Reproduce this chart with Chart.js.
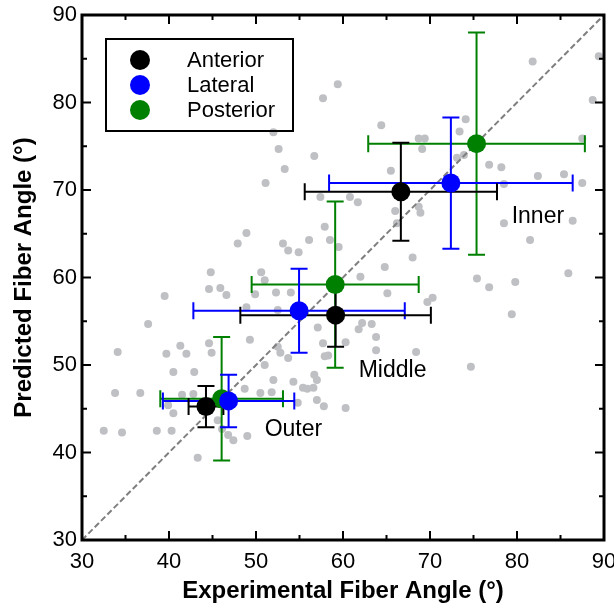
<!DOCTYPE html>
<html>
<head>
<meta charset="utf-8">
<script src="https://cdn.jsdelivr.net/npm/chart.js@4"></script>
<style>
  html, body { margin: 0; padding: 0; background: #fff; }
</style>
</head>
<body>
<canvas id="fiberChart" width="614" height="606"></canvas>
<script>
// -------------------- Data --------------------
const axisMin = 30;
const axisMax = 90;
const regions = ["Outer", "Middle", "Inner"];
const groupNames = ["Anterior", "Lateral", "Posterior"];
const groupColors = ["#000000", "#0000ff", "#008000"];

// mean experimental / predicted angle per region, with +/- error
const anteriorExp = [44.25, 59.15, 66.65];
const anteriorPred = [45.25, 55.7, 69.8];
const anteriorExpErr = [2.0, 10.95, 11.05];
const anteriorPredErr = [2.35, 3.6, 5.6];

const lateralExp = [46.85, 54.95, 72.4];
const lateralPred = [45.9, 56.2, 70.8];
const lateralExpErr = [7.55, 12.15, 14.0];
const lateralPredErr = [3.0, 4.8, 7.5];

const posteriorExp = [46.05, 59.1, 75.35];
const posteriorPred = [46.15, 59.2, 75.3];
const posteriorExpErr = [7.05, 9.6, 12.45];
const posteriorPredErr = [7.05, 9.5, 12.7];

// individual samples (gray)
const sampleExp = [
  81.8, 89.4, 88.7, 87.5, 76.8, 78.2, 82.4, 85.4, 87.5, 78.5, 78.5, 86.4, 81.5, 75.4, 76.8, 79.8, 85.9, 79.4,
  59.4, 57.7, 64.4, 74.1, 73.4, 68.7, 69.4, 69.1, 56.7, 73.9, 73.1, 65.5, 60.8, 61.7, 57.4, 66.0, 68.7, 68.9,
  57.9, 56.1, 58.5, 59.5, 68.0, 64.8, 62.0, 65.1, 70.3, 69.7, 66.2,
  62.2, 63.3, 61.8, 63.8, 63.8, 68.4, 60.3, 74.7, 57.9, 56.7, 57.0, 55.9, 57.0, 57.8, 60.3,
  37.6, 34.1, 39.7, 41.3, 42.0, 44.6, 44.9, 49.3, 40.5, 42.9, 51.0, 53.7, 52.0, 54.3, 33.8, 36.7, 39.9, 40.5,
  41.5, 42.8, 48.7, 50.5, 51.8, 54.8, 49.0, 32.5, 34.6, 38.6, 40.3, 43.3, 46.1, 46.8, 47.4, 45.6, 55.4, 56.6,
  44.8, 44.6, 39.5, 48.9, 47.9, 53.1, 53.7, 54.9, 50.6, 51.0, 45.9, 46.6, 49.9, 52.3, 54.0, 48.9, 52.5, 52.5,
  52.8, 57.7, 58.3, 57.1, 52.0, 52.6, 53.3, 51.1
];
const samplePred = [
  84.7, 85.3, 80.3, 75.9, 72.9, 72.6, 71.6, 71.8, 70.8, 70.7, 66.2, 66.5, 64.3, 59.9, 58.9, 59.5, 60.5, 55.8,
  82.1, 80.5, 77.4, 78.1, 76.7, 75.9, 75.9, 74.7, 73.9, 74.0, 73.7, 72.2, 69.2, 68.6, 69.2, 67.6, 68.1, 67.4,
  65.8, 64.3, 64.3, 63.5, 62.3, 61.2, 60.1, 58.2, 57.7, 57.2, 66.2,
  54.8, 54.7, 54.1, 53.2, 51.7, 51.5, 52.6, 49.8, 51.0, 48.9, 48.3, 47.3, 46.0, 45.3, 45.1,
  54.7, 51.5, 51.3, 52.2, 51.3, 52.5, 51.4, 52.9, 49.2, 49.2, 50.0, 50.8, 48.3, 48.1, 46.8, 46.8, 45.4, 44.5,
  46.6, 46.7, 47.3, 46.8, 46.9, 45.7, 41.9, 42.5, 42.3, 42.5, 42.5, 39.4, 42.7, 42.0, 41.4, 43.7, 47.4, 47.4,
  60.6, 58.7, 57.9, 65.1, 63.9, 63.9, 63.1, 62.9, 60.6, 59.7, 58.8, 58.0, 58.1, 58.3, 58.3, 56.6, 56.3, 52.1,
  51.4, 52.5, 51.1, 54.3, 76.6, 74.7, 72.4, 70.8
];

// where the region names sit, in axis units
const regionLabelExp = [54.3, 65.7, 82.4];
const regionLabelPred = [42.6, 49.4, 66.9];

// -------------------- Helpers --------------------
const FONT = "'Liberation Sans', Arial, sans-serif";

function toPoints(xs, ys) {
  return xs.map((v, i) => ({ x: v, y: ys[i] }));
}

const groups = [
  { exp: anteriorExp, pred: anteriorPred, expErr: anteriorExpErr, predErr: anteriorPredErr },
  { exp: lateralExp, pred: lateralPred, expErr: lateralExpErr, predErr: lateralPredErr },
  { exp: posteriorExp, pred: posteriorPred, expErr: posteriorExpErr, predErr: posteriorPredErr }
];

// error bars go on after the gray samples and the 1:1 line, under the big dots
const errorBarPlugin = {
  id: "errorBars",
  afterDatasetDraw(chart, args) {
    if (args.index !== 3) return;
    const { ctx, scales: { x, y } } = chart;
    const cap = 8.5;
    ctx.save();
    ctx.lineWidth = 2;
    for (let g = groups.length - 1; g >= 0; g--) {
      const grp = groups[g];
      ctx.strokeStyle = groupColors[g];
      grp.exp.forEach((ex, i) => {
        const px = x.getPixelForValue(ex), py = y.getPixelForValue(grp.pred[i]);
        const x0 = x.getPixelForValue(ex - grp.expErr[i]), x1 = x.getPixelForValue(ex + grp.expErr[i]);
        const y0 = y.getPixelForValue(grp.pred[i] - grp.predErr[i]), y1 = y.getPixelForValue(grp.pred[i] + grp.predErr[i]);
        ctx.beginPath();
        ctx.moveTo(x0, py); ctx.lineTo(x1, py);
        ctx.moveTo(x0, py - cap); ctx.lineTo(x0, py + cap);
        ctx.moveTo(x1, py - cap); ctx.lineTo(x1, py + cap);
        ctx.moveTo(px, y0); ctx.lineTo(px, y1);
        ctx.moveTo(px - cap, y0); ctx.lineTo(px + cap, y0);
        ctx.moveTo(px - cap, y1); ctx.lineTo(px + cap, y1);
        ctx.stroke();
      });
    }
    ctx.restore();
  }
};

// frame with inward ticks, legend box, region names
const framePlugin = {
  id: "frame",
  afterDraw(chart) {
    const { ctx, chartArea: a, scales: { x, y } } = chart;
    ctx.save();
    ctx.strokeStyle = "#000";
    ctx.lineWidth = 2;
    for (let v = axisMin + 5; v < axisMax; v += 5) {
      const len = v % 10 === 0 ? 9 : 5;
      const px = x.getPixelForValue(v), py = y.getPixelForValue(v);
      ctx.beginPath();
      ctx.moveTo(px, a.bottom); ctx.lineTo(px, a.bottom - len);
      ctx.moveTo(px, a.top); ctx.lineTo(px, a.top + len);
      ctx.moveTo(a.left, py); ctx.lineTo(a.left + len, py);
      ctx.moveTo(a.right, py); ctx.lineTo(a.right - len, py);
      ctx.stroke();
    }
    ctx.lineWidth = 3;
    ctx.strokeRect(a.left, a.top, a.right - a.left, a.bottom - a.top);

    // legend
    const lx = a.left + 24, ly = a.top + 24;
    ctx.lineWidth = 2;
    ctx.strokeRect(lx, ly, 187, 92);
    ctx.font = "22px " + FONT;
    ctx.textBaseline = "middle";
    ctx.textAlign = "left";
    groupNames.forEach((name, i) => {
      const cy = ly + 21 + i * 25;
      ctx.fillStyle = groupColors[i];
      ctx.beginPath();
      ctx.arc(lx + 34, cy, 10, 0, Math.PI * 2);
      ctx.fill();
      ctx.fillStyle = "#000";
      ctx.fillText(name, lx + 81, cy + 1);
    });

    // region names
    ctx.font = "23px " + FONT;
    ctx.textAlign = "center";
    regions.forEach((r, i) => {
      ctx.fillText(r, x.getPixelForValue(regionLabelExp[i]), y.getPixelForValue(regionLabelPred[i]));
    });
    ctx.restore();
  }
};

// -------------------- Chart --------------------
const groupDatasets = groups.map((grp, g) => ({
  label: groupNames[g],
  data: toPoints(grp.exp, grp.pred),
  backgroundColor: groupColors[g],
  borderColor: groupColors[g],
  borderWidth: 0,
  pointRadius: 9.5,
  order: g + 1
}));

new Chart(document.getElementById("fiberChart"), {
  type: "scatter",
  data: {
    datasets: [
      ...groupDatasets,
      {
        type: "line",
        label: "1:1",
        data: [{ x: axisMin, y: axisMin }, { x: axisMax, y: axisMax }],
        borderColor: "#7f7f7f",
        borderWidth: 2,
        borderDash: [6, 3],
        pointRadius: 0,
        order: 4
      },
      {
        label: "Samples",
        data: toPoints(sampleExp, samplePred),
        backgroundColor: "#bfc0c4",
        borderWidth: 0,
        pointRadius: 4,
        order: 5
      }
    ]
  },
  options: {
    responsive: false,
    animation: false,
    devicePixelRatio: 1,
    layout: { padding: { top: 15, right: 10, left: 0, bottom: 0 } },
    plugins: { legend: { display: false }, tooltip: { enabled: false } },
    scales: {
      x: {
        type: "linear",
        min: axisMin,
        max: axisMax,
        grid: { display: false, drawTicks: false },
        border: { display: false },
        ticks: { stepSize: 10, color: "#000", font: { size: 22, family: FONT }, padding: 9 },
        title: {
          display: true,
          text: "Experimental Fiber Angle (°)",
          color: "#000",
          font: { size: 24, weight: "bold", family: FONT },
          padding: { top: 0, bottom: 0 }
        },
        afterFit(scale) { scale.height = 66; scale.paddingLeft = 0; scale.paddingRight = 0; }
      },
      y: {
        type: "linear",
        min: axisMin,
        max: axisMax,
        grid: { display: false, drawTicks: false },
        border: { display: false },
        ticks: { stepSize: 10, color: "#000", font: { size: 22, family: FONT }, padding: 5 },
        title: {
          display: true,
          text: "Predicted Fiber Angle (°)",
          color: "#000",
          font: { size: 24, weight: "bold", family: FONT },
          padding: { top: 10, bottom: 0 }
        },
        afterFit(scale) { scale.width = 82; scale.paddingTop = 0; scale.paddingBottom = 0; }
      }
    }
  },
  plugins: [errorBarPlugin, framePlugin]
});
</script>
</body>
</html>
